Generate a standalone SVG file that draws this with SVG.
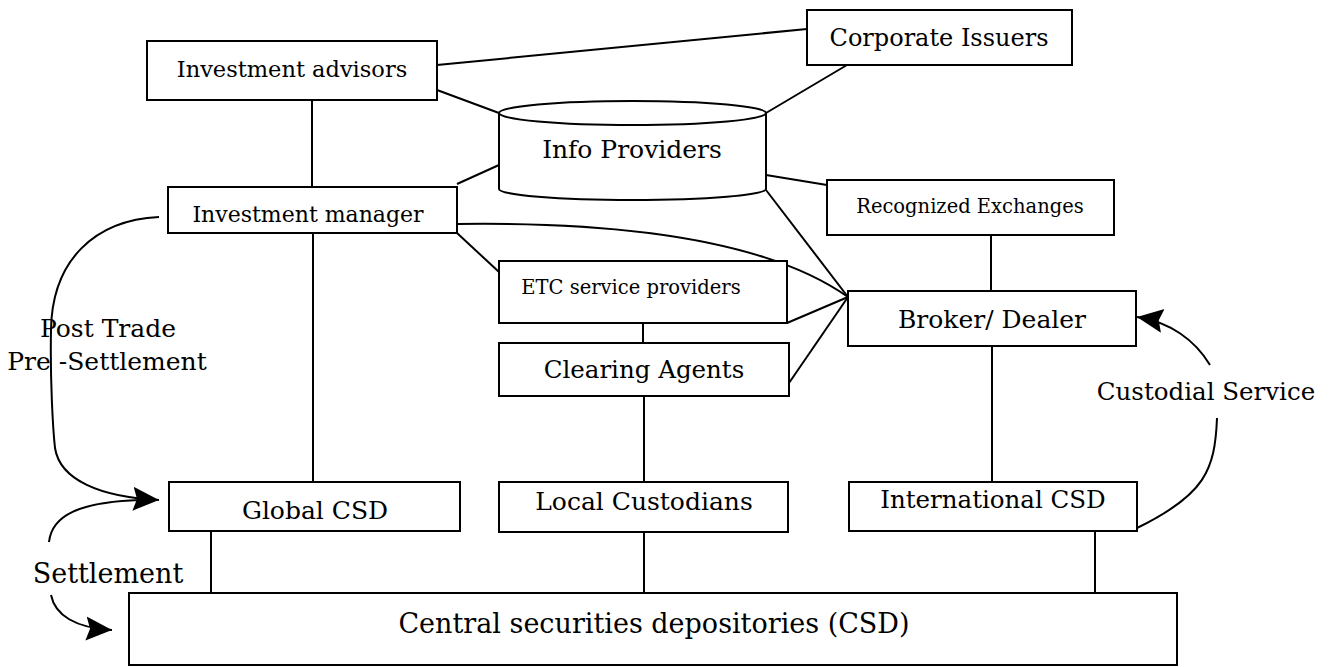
<svg xmlns="http://www.w3.org/2000/svg" width="1332" height="667" viewBox="0 0 1332 667">
<defs>
<style>
.box{fill:#fff;stroke:#000;stroke-width:2}
.ln{fill:none;stroke:#000;stroke-width:2}
.t{font-family:"DejaVu Serif","Liberation Serif",serif;fill:#000;text-anchor:middle}
</style>
<marker id="ah" markerUnits="userSpaceOnUse" markerWidth="28" markerHeight="26" refX="26" refY="13" orient="auto">
<path d="M0,1 L26,13 L0,25 L4,13 Z" fill="#000"/>
</marker>
</defs>
<rect width="1332" height="667" fill="#fff"/>
<g id="connectors">
<line class="ln" x1="437" y1="65" x2="807" y2="29"/>
<line class="ln" x1="437" y1="90" x2="499" y2="113"/>
<line class="ln" x1="847" y1="65" x2="766" y2="113"/>
<line class="ln" x1="312" y1="100" x2="312" y2="187"/>
<line class="ln" x1="457" y1="184" x2="499" y2="165"/>
<line class="ln" x1="766" y1="175" x2="827" y2="185"/>
<line class="ln" x1="766" y1="190" x2="848" y2="297"/>
<path class="ln" d="M457,224 C600,222 760,235 848,297"/>
<line class="ln" x1="457" y1="233" x2="499" y2="272"/>
<line class="ln" x1="787" y1="323" x2="848" y2="297"/>
<line class="ln" x1="789" y1="383" x2="848" y2="297"/>
<line class="ln" x1="643" y1="323" x2="643" y2="343"/>
<line class="ln" x1="644" y1="396" x2="644" y2="482"/>
<line class="ln" x1="991" y1="235" x2="991" y2="291"/>
<line class="ln" x1="992" y1="346" x2="992" y2="482"/>
<line class="ln" x1="313" y1="233" x2="313" y2="482"/>
<line class="ln" x1="211" y1="531" x2="211" y2="593"/>
<line class="ln" x1="644" y1="532" x2="644" y2="593"/>
<line class="ln" x1="1095" y1="531" x2="1095" y2="593"/>
<path class="ln" d="M159,217 C95,220 52,260 51,330 C50,380 53,430 55,448 C60,480 100,497 159,500" marker-end="url(#ah)"/>
<path class="ln" d="M49,542 C52,515 80,502 140,500"/>
<path class="ln" d="M51,595 C55,615 75,628 112,630" marker-end="url(#ah)"/>
<path class="ln" d="M1217,418 C1215,470 1205,495 1137,528"/>
<path class="ln" d="M1210,365 C1195,340 1170,322 1137,317" marker-end="url(#ah)"/>
</g>
<g id="corporate-issuers">
<rect class="box" x="807" y="10" width="265" height="55"/>
<text class="t" x="939" y="46" font-size="24">Corporate Issuers</text>
</g>
<g id="investment-advisors">
<rect class="box" x="147" y="41" width="290" height="59"/>
<text class="t" x="292" y="77" font-size="22.5">Investment advisors</text>
</g>
<g id="info-providers">
<path class="box" d="M499,113 L499,189 A133.5,11 0 0 0 766,189 L766,113 A133.5,12 0 0 0 499,113 A133.5,12 0 0 0 766,113"/>
<text class="t" x="632" y="158" font-size="25">Info Providers</text>
</g>
<g id="investment-manager">
<rect class="box" x="168" y="187" width="289" height="46"/>
<text class="t" x="308" y="222" font-size="22">Investment manager</text>
</g>
<g id="recognized-exchanges">
<rect class="box" x="827" y="180" width="287" height="55"/>
<text class="t" x="970" y="213" font-size="19.5">Recognized Exchanges</text>
</g>
<g id="etc-service-providers">
<rect class="box" x="499" y="261" width="288" height="62"/>
<text class="t" x="631" y="294" font-size="19.5">ETC service providers</text>
</g>
<g id="broker-dealer">
<rect class="box" x="848" y="291" width="288" height="55"/>
<text class="t" x="992" y="328" font-size="25">Broker/ Dealer</text>
</g>
<g id="clearing-agents">
<rect class="box" x="499" y="343" width="290" height="53"/>
<text class="t" x="644" y="378" font-size="24.5">Clearing Agents</text>
</g>
<g id="global-csd">
<rect class="box" x="169" y="482" width="291" height="49"/>
<text class="t" x="315" y="519" font-size="25">Global CSD</text>
</g>
<g id="local-custodians">
<rect class="box" x="499" y="482" width="289" height="50"/>
<text class="t" x="644" y="510" font-size="25">Local Custodians</text>
</g>
<g id="international-csd">
<rect class="box" x="849" y="482" width="288" height="49"/>
<text class="t" x="993" y="508" font-size="24.5">International CSD</text>
</g>
<g id="csd">
<rect class="box" x="129" y="593" width="1048" height="72"/>
<text class="t" x="654" y="633" font-size="27">Central securities depositories (CSD)</text>
</g>
<g id="labels">
<text class="t" x="108" y="337" font-size="25">Post Trade</text>
<text class="t" x="107" y="370" font-size="25">Pre -Settlement</text>
<text class="t" x="108" y="583" font-size="27">Settlement</text>
<text class="t" x="1206" y="400" font-size="24.5">Custodial Service</text>
</g>
</svg>
